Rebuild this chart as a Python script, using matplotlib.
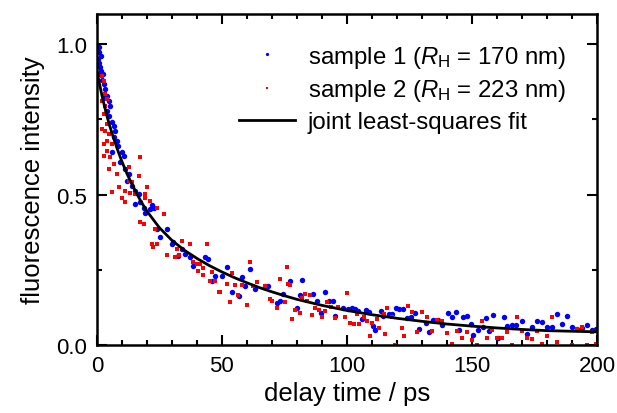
import numpy as np
import matplotlib
matplotlib.use('Agg')
import matplotlib.pyplot as plt

plt.rcParams['font.family'] = ['Liberation Sans', 'DejaVu Sans']
plt.rcParams['mathtext.fontset'] = 'custom'
plt.rcParams['mathtext.rm'] = 'Liberation Sans'
plt.rcParams['mathtext.it'] = 'Liberation Sans:italic'

# sample 1 (blue): delay time (ps), intensity
t1 = [0.3, 0.5, 0.67, 0.67, 0.93, 1.0, 1.2, 1.6, 1.73, 2.0, 2.4, 2.67, 3.0, 3.3, 4.0, 4.0,
      4.67, 5.0, 5.3, 6.0, 6.0, 6.67, 7.0, 7.33, 8.0, 8.5, 9.3, 10.0, 10.67, 11.3, 12.0, 12.67,
      14.0, 15.3, 15.3, 16.67, 17.2, 18.7, 19.3, 21.2, 22.0, 22.7, 23.9, 25.2, 27.9, 29.9,
      30.5, 32.5, 33.9, 35.2, 37.2, 38.5, 43.2, 44.5, 45.9, 47.2, 49.9, 51.9, 53.9, 56.9,
      57.9, 59.2, 61.2, 63.2, 67.2, 68.5, 71.9, 73.2, 74.5, 77.2, 79.9, 81.3, 82.1, 86.5,
      88.1, 89.6, 91.2, 92.9, 94.3, 95.2, 98.5, 100.5, 101.9, 103.2, 104.5, 105.9, 107.6,
      108.9, 110.3, 111.2, 113.5, 114.3, 116.7, 118.0, 119.7, 121.0, 122.4, 124.0, 125.5,
      127.3, 128.7, 131.6, 133.0, 134.5, 136.5, 138.0, 140.5, 141.9, 143.6, 145.0, 146.5,
      148.1, 149.5, 150.5, 152.5, 154.3, 155.6, 156.9, 158.5, 160.5, 162.8, 164.1, 165.9,
      167.6, 169.9, 171.9, 173.9, 175.9, 177.9, 179.9, 181.9, 183.9, 185.9, 187.9, 189.9,
      191.9, 193.9, 195.9, 197.9, 199.6]
y1 = [0.93, 0.95, 0.989, 0.936, 0.972, 0.90, 0.922, 0.961, 0.909, 0.88, 0.90, 0.867, 0.82, 0.85, 0.828, 0.778,
      0.812, 0.76, 0.795, 0.74, 0.64, 0.728, 0.69, 0.712, 0.678, 0.66, 0.607, 0.64, 0.629, 0.585, 0.546, 0.568,
      0.53, 0.513, 0.468, 0.502, 0.474, 0.457, 0.44, 0.452, 0.466, 0.455, 0.385, 0.36, 0.385, 0.336,
      0.341, 0.297, 0.319, 0.303, 0.291, 0.263, 0.291, 0.286, 0.214, 0.23, 0.23, 0.258, 0.175, 0.164,
      0.225, 0.197, 0.252, 0.186, 0.197, 0.197, 0.14, 0.148, 0.17, 0.214, 0.122, 0.166, 0.217, 0.171,
      0.147, 0.108, 0.177, 0.147, 0.147, 0.097, 0.122, 0.12, 0.122, 0.12, 0.114, 0.086, 0.118,
      0.111, 0.064, 0.051, 0.114, 0.097, 0.103, 0.103, 0.122, 0.12, 0.12, 0.089, 0.094,
      0.108, 0.053, 0.073, 0.044, 0.084, 0.084, 0.066, 0.108, 0.092, 0.11, 0.051, 0.095,
      0.097, 0.07, 0.033, 0.051, 0.059, 0.089, 0.048, 0.1, 0.025, 0.092, 0.062, 0.066,
      0.066, 0.081, 0.036, 0.059, 0.081, 0.077, 0.059, 0.059, 0.103, 0.07, 0.097, 0.059,
      0.053, 0.056, 0.066, 0.051, 0.053]

# sample 2 (red)
t2 = [2.0, 2.67, 3.3, 4.0, 2.0, 3.3, 2.67, 4.0, 2.0, 3.3, 4.67, 4.0, 2.67, 6.0, 4.0, 2.67,
      5.3, 17.3, 6.67, 4.67, 12.67, 8.0, 16.67, 12.67, 8.67, 14.0, 6.0, 11.3, 15.3, 20.0,
      10.0, 13.3, 19.3, 11.3, 19.3, 24.0, 21.3, 26.7, 17.3, 18.7, 23.2, 21.9, 22.3, 23.9,
      27.9, 31.2, 31.9, 32.9, 33.9, 37.2, 38.5, 39.9, 40.5, 41.2, 42.5, 42.5, 43.9, 45.2,
      45.9, 47.2, 48.9, 49.2, 51.9, 53.2, 53.9, 55.2, 56.5, 57.9, 59.9, 61.2, 62.5, 63.9,
      67.2, 69.2, 69.9, 71.9, 73.2, 75.2, 75.9, 76.5, 77.2, 78.0, 79.1, 81.1, 82.1, 83.2,
      84.0, 85.2, 85.9, 87.2, 88.9, 89.9, 91.2, 92.0, 93.7, 95.1, 96.5, 99.2, 99.9, 101.2,
      102.7, 104.0, 105.0, 106.7, 108.0, 109.3, 110.0, 112.0, 113.0, 114.7, 115.3, 116.0,
      118.0, 119.3, 122.0, 122.9, 124.3, 126.0, 128.1, 129.9, 131.9, 133.9, 135.9, 137.9,
      139.9, 141.9, 143.9, 145.9, 147.9, 149.9, 151.9, 154.0, 155.9, 157.9, 159.9, 161.9,
      163.9, 165.9, 167.9, 169.9, 171.9, 173.9, 175.9, 177.9, 179.9, 181.9, 183.9, 185.9,
      187.9, 189.9, 191.9, 193.9, 195.9, 197.9, 199.6]
y2 = [0.895, 0.878, 0.834, 0.817, 0.811, 0.795, 0.767, 0.734, 0.717, 0.712, 0.701, 0.679, 0.668, 0.668, 0.646, 0.629,
      0.624, 0.624, 0.602, 0.585, 0.59, 0.568, 0.562, 0.546, 0.524, 0.541, 0.507, 0.513, 0.502, 0.524,
      0.49, 0.504, 0.502, 0.474, 0.49, 0.457, 0.479, 0.435, 0.408, 0.402, 0.385, 0.336, 0.325, 0.336,
      0.30, 0.291, 0.319, 0.30, 0.347, 0.336, 0.275, 0.269, 0.247, 0.269, 0.233, 0.257, 0.336, 0.214,
      0.243, 0.214, 0.177, 0.178, 0.203, 0.144, 0.24, 0.20, 0.167, 0.20, 0.132, 0.275, 0.197, 0.211,
      0.195, 0.154, 0.146, 0.124, 0.219, 0.143, 0.258, 0.202, 0.20, 0.086, 0.117, 0.108, 0.158, 0.169,
      0.147, 0.166, 0.10, 0.122, 0.117, 0.095, 0.114, 0.144, 0.128, 0.089, 0.128, 0.092, 0.173, 0.073,
      0.07, 0.103, 0.07, 0.092, 0.081, 0.029, 0.075, 0.086, 0.058, 0.103, 0.036, 0.122,
      0.095, 0.0, 0.058, 0.029, 0.131, 0.11, 0.042, 0.11, 0.092, 0.048, 0.084, 0.081,
      0.04, 0.003, 0.048, 0.022, 0.042, 0.018, 0.0, 0.081, 0.025, 0.051, 0.025, 0.025,
      0.042, 0.0, 0.095, 0.048, 0.025, 0.019, 0.048, 0.003, 0.031, 0.095, 0.009, -0.005,
      -0.005, 0.0, 0.053, 0.059, 0.0, 0.042, 0.003]

# joint fit curve
t_fit = [0, 1, 2, 3, 4, 5, 6, 8, 10, 12, 14, 16, 18, 20, 25, 30, 35, 40, 45, 50, 55, 60,
         65, 70, 75, 80, 90, 100, 110, 120, 130, 140, 150, 160, 170, 180, 190, 200]
y_fit = [0.91, 0.87, 0.83, 0.795, 0.762, 0.732, 0.705, 0.655, 0.61, 0.57, 0.535, 0.502, 0.472,
         0.445, 0.39, 0.348, 0.315, 0.288, 0.264, 0.243, 0.224, 0.207, 0.191, 0.177, 0.164,
         0.152, 0.132, 0.115, 0.101, 0.089, 0.079, 0.07, 0.063, 0.057, 0.052, 0.048, 0.046, 0.044]

fig = plt.figure(figsize=(6.17, 4.14), dpi=100)
ax = fig.add_axes([0.157, 0.164, 0.8106, 0.8])

ax.plot(t1, y1, 'o', color='#0000ff', ms=3.9, mew=0, label=r'sample 1 ($R_\mathrm{H}$ = 170 nm)')
ax.plot(t2, y2, 's', color='#ff0000', ms=3.4, mew=0, label=r'sample 2 ($R_\mathrm{H}$ = 223 nm)')
ax.plot(t_fit, y_fit, '-', color='black', lw=2.0, label='joint least-squares fit')

ax.set_xlim(0, 200)
ax.set_ylim(0, 1.1)
ax.set_xticks([0, 50, 100, 150, 200])
ax.set_xticks(np.arange(0, 201, 10), minor=True)
ax.set_yticks([0, 0.5, 1.0])
ax.set_yticklabels(['0.0', '0.5', '1.0'])
ax.set_yticks([0.25, 0.75], minor=True)
ax.tick_params(which='both', direction='in', top=True, right=True, width=1.5, labelsize=16, pad=7)
ax.tick_params(which='major', length=7)
ax.tick_params(which='minor', length=3.5)
for s in ax.spines.values():
    s.set_linewidth(1.8)

ax.set_xlabel('delay time / ps', fontsize=18.5, labelpad=4)
ax.set_ylabel('fluorescence intensity', fontsize=18.5, labelpad=8)

ax.legend(loc='upper right', bbox_to_anchor=(0.938, 0.91), frameon=False, fontsize=17.3,
          markerscale=0.6, handlelength=2.3, handletextpad=0.55, labelspacing=0.32,
          borderpad=0, borderaxespad=0)

fig.savefig('out.png', dpi=100)
